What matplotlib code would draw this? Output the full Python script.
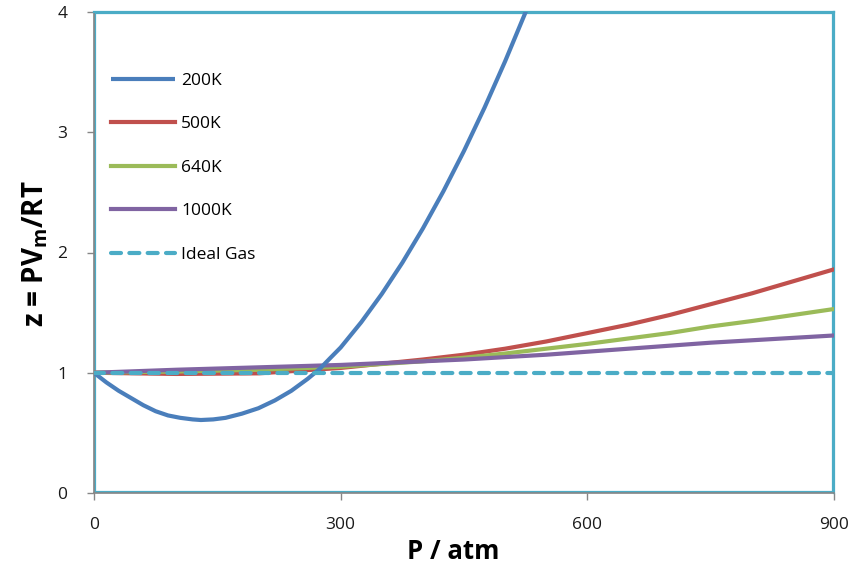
import matplotlib
matplotlib.use("Agg")
import matplotlib.pyplot as plt
from matplotlib.patches import Rectangle

# ---- data ----
p_200 = [0, 15, 30, 45, 60, 75, 90, 105, 120, 130, 145, 160, 180, 200, 220, 240, 260, 275, 287,
         300, 325, 350, 375, 400, 425, 450, 475, 500, 525, 540]
z_200 = [1.0, 0.92, 0.85, 0.79, 0.73, 0.68, 0.645, 0.625, 0.612, 0.607, 0.612, 0.625, 0.66, 0.705,
         0.77, 0.85, 0.95, 1.035, 1.12, 1.21, 1.42, 1.655, 1.915, 2.20, 2.51, 2.845, 3.205, 3.59,
         4.0, 4.25]

p_common = [0, 100, 200, 300, 400, 450, 500, 550, 600, 650, 700, 750, 800, 850, 900]
z_500 = [1.0, 0.99, 0.995, 1.04, 1.11, 1.15, 1.20, 1.26, 1.33, 1.40, 1.48, 1.57, 1.66, 1.76, 1.86]
z_640 = [1.0, 1.01, 1.025, 1.05, 1.095, 1.125, 1.16, 1.20, 1.24, 1.285, 1.33, 1.385, 1.43, 1.48, 1.53]
z_1000 = [1.0, 1.025, 1.045, 1.065, 1.095, 1.11, 1.13, 1.15, 1.175, 1.20, 1.225, 1.25, 1.27, 1.29, 1.31]

p_ideal = [0, 900]
z_ideal = [1.0, 1.0]

x_ticks = [0, 300, 600, 900]
y_ticks = [0, 1, 2, 3, 4]
labels = ["200K", "500K", "640K", "1000K", "Ideal Gas"]
colors = ["#4A7EBB", "#C0504D", "#9BBB59", "#8064A2", "#4BACC6"]

plt.rcParams['font.family'] = ['Open Sans', 'DejaVu Sans']
plt.rcParams['mathtext.fontset'] = 'custom'
plt.rcParams['mathtext.rm'] = 'Open Sans'
plt.rcParams['mathtext.bf'] = 'Open Sans:bold'

fig = plt.figure(figsize=(8.62, 5.71), dpi=100)
ax = fig.add_axes([94/862, 78/571, 740/862, 481/571])

lw = 3.0
ax.plot(p_200, z_200, color=colors[0], lw=lw, label=labels[0], solid_capstyle='butt',
        solid_joinstyle='round', zorder=5)
ax.plot(p_common, z_500, color=colors[1], lw=lw, label=labels[1], zorder=4)
ax.plot(p_common, z_640, color=colors[2], lw=lw, label=labels[2], zorder=4)
ax.plot(p_common, z_1000, color=colors[3], lw=lw, label=labels[3], zorder=4)
ax.plot(p_ideal, z_ideal, color=colors[4], lw=lw, ls=(0, (2.4, 2.0)), dash_capstyle='round',
        label=labels[4], zorder=6)

ax.set_xlim(0, 900)
ax.set_ylim(0, 4)
ax.set_xticks(x_ticks)
ax.set_yticks(y_ticks)

# spines: teal frame, gray left/bottom axes lines
for s in ['top', 'right']:
    ax.spines[s].set_color('#4BACC6')
    ax.spines[s].set_linewidth(1.6)
for s in ['left', 'bottom']:
    ax.spines[s].set_color('#868686')
    ax.spines[s].set_linewidth(1.2)
ax.add_patch(Rectangle((0.002, 0.003), 0.996, 0.995, transform=ax.transAxes, fill=False,
                       edgecolor='#4BACC6', lw=1.6, zorder=1, clip_on=False))

ax.tick_params(axis='both', direction='out', length=5, width=1, color='#868686',
               labelsize=12.5, labelcolor='#1a1a1a')
ax.tick_params(axis='x', pad=12)
ax.tick_params(axis='y', pad=14)

ax.set_xlabel('P / atm', fontsize=18.5, fontweight='bold')
ax.xaxis.set_label_coords((453 - 94) / 740, (493 - 538) / 481)
ax.set_ylabel(r'z = PV$_{\mathbf{m}}$/RT', fontsize=20, fontweight='bold')
ax.yaxis.set_label_coords((50 - 94) / 740, (493 - 254) / 481)

leg = ax.legend(loc='upper left', bbox_to_anchor=(0.023, 0.874), frameon=False, fontsize=12.5,
                handlelength=3.7, handletextpad=0.35, labelspacing=1.575, borderaxespad=0,
                borderpad=0)

fig.savefig('out.png', dpi=100)
